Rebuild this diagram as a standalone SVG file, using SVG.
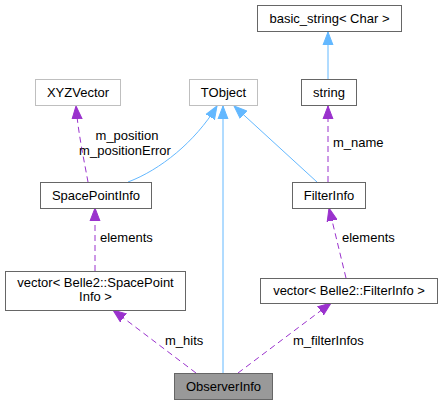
<svg xmlns="http://www.w3.org/2000/svg" width="442" height="404" viewBox="0 0 442 404">
<defs>
<style>
text{font-family:"Liberation Sans",Arial,Helvetica,sans-serif;font-size:13px;fill:#000}
.n{fill:#fff;stroke:#666;stroke-width:1}
.nl{fill:#fff;stroke:#bfbfbf;stroke-width:1}
.c{text-anchor:middle}
.inh{fill:none;stroke:#63b8ff;stroke-width:1}
.use{fill:none;stroke:#9a32cd;stroke-width:1;stroke-dasharray:6,4}
</style>
<marker id="ab" markerUnits="userSpaceOnUse" markerWidth="14" markerHeight="12" viewBox="0 0 14 12" refX="13" refY="6" orient="auto">
<path d="M0,1 L13,6 L0,11 Z" fill="#63b8ff" stroke="#63b8ff"/>
</marker>
<marker id="ap" markerUnits="userSpaceOnUse" markerWidth="14" markerHeight="12" viewBox="0 0 14 12" refX="13" refY="6" orient="auto">
<path d="M0,1 L13,6 L0,11 Z" fill="#9a32cd" stroke="#9a32cd"/>
</marker>
</defs>
<g id="connectors">
<path class="inh" d="M328,79 L328,32" marker-end="url(#ab)"/>
<path class="inh" d="M128,182 C160,170 195,142 217,106" marker-end="url(#ab)"/>
<path class="inh" d="M223,373 L223,106" marker-end="url(#ab)"/>
<path class="inh" d="M317,182 L234,106" marker-end="url(#ab)"/>
<path class="use" d="M88,182 C84,160 78,132 76,106" marker-end="url(#ap)"/>
<path class="use" d="M328,182 L328,106" marker-end="url(#ap)"/>
<path class="use" d="M95,271 L95,208" marker-end="url(#ap)"/>
<path class="use" d="M346,278 L329,208" marker-end="url(#ap)"/>
<path class="use" d="M196,373 L113,310" marker-end="url(#ap)"/>
<path class="use" d="M238,373 L331,303" marker-end="url(#ap)"/>
<text class="c" x="127" y="140">m_position</text>
<text class="c" x="125" y="155">m_positionError</text>
<text x="333" y="147">m_name</text>
<text x="100" y="242">elements</text>
<text x="342" y="242">elements</text>
<text x="165" y="345">m_hits</text>
<text x="293" y="345">m_filterInfos</text>
</g>
<g id="basic_string"><rect class="n" x="257.5" y="5.5" width="144" height="26"/><text class="c" x="329.5" y="23">basic_string&lt; Char &gt;</text></g>
<g id="string"><rect class="n" x="301.5" y="79.5" width="55" height="26"/><text class="c" x="329" y="97">string</text></g>
<g id="TObject"><rect class="nl" x="189.5" y="79.5" width="68" height="26"/><text class="c" x="223.5" y="97">TObject</text></g>
<g id="XYZVector"><rect class="nl" x="35.5" y="79.5" width="85" height="26"/><text class="c" x="78" y="97">XYZVector</text></g>
<g id="SpacePointInfo"><rect class="n" x="40.5" y="182.5" width="111" height="26"/><text class="c" x="96" y="200">SpacePointInfo</text></g>
<g id="FilterInfo"><rect class="n" x="292.5" y="182.5" width="73" height="26"/><text class="c" x="329" y="200">FilterInfo</text></g>
<g id="vecSPI"><rect class="n" x="5.5" y="271.5" width="180" height="39"/><text class="c" x="95.5" y="287">vector&lt; Belle2::SpacePoint</text><text class="c" x="95.5" y="301">Info &gt;</text></g>
<g id="vecFI"><rect class="n" x="260.5" y="278.5" width="177" height="25"/><text class="c" x="349" y="295">vector&lt; Belle2::FilterInfo &gt;</text></g>
<g id="ObserverInfo"><rect x="174.5" y="373.5" width="98" height="26" fill="#999" stroke="#666"/><text class="c" x="223.5" y="391">ObserverInfo</text></g>
</svg>
